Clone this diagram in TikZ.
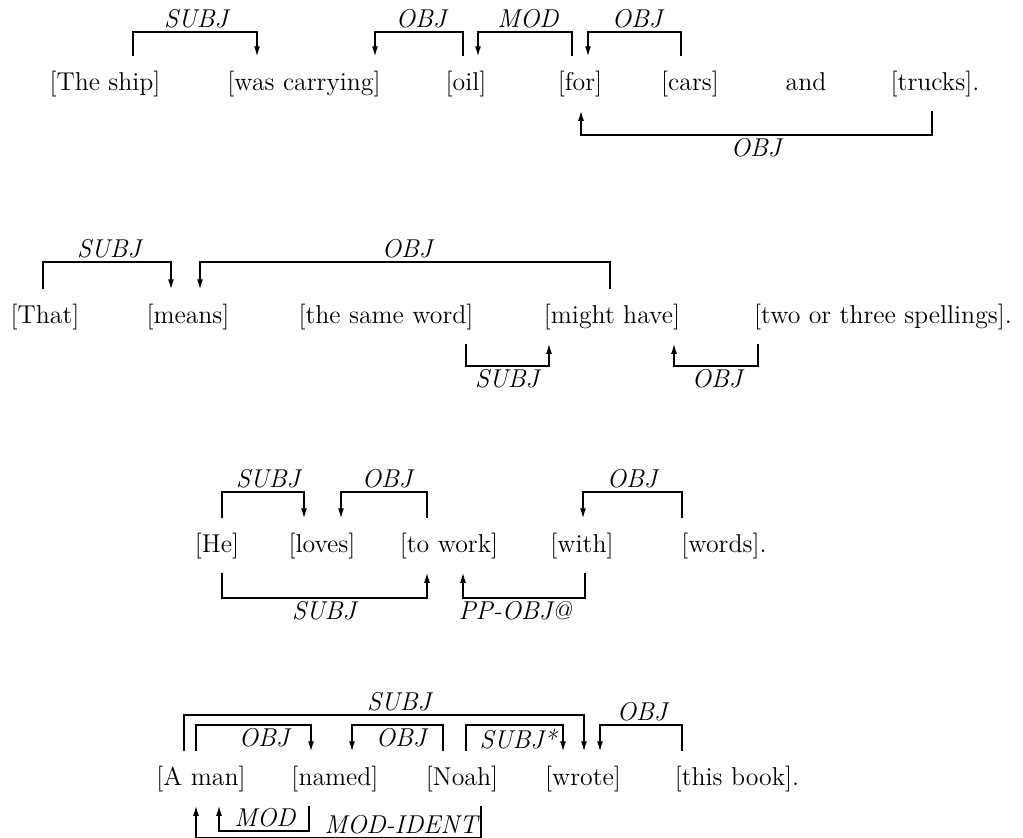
\documentclass[tikz,border=0pt]{standalone}
\usepackage{tikz}
\usetikzlibrary{arrows.meta}
\tikzset{>={Latex[length=5pt,width=3pt]}}
\tikzset{
  word/.style={anchor=base, inner sep=7pt, font=\fontsize{12.9}{15}\selectfont},
  rel/.style={font=\fontsize{12.9}{15}\selectfont\itshape, inner sep=1.5pt},
  dep/.style={line width=0.65pt, ->}
}

\begin{document}
\begin{tikzpicture}[x=0.5pt, y=-0.5pt]
    \useasboundingbox (0,0) rectangle (1023,837);

    %first sentence
    \node[word] (ship) at (105,90) {[The ship]};
    \node[word] (was) at (304,90) {[was carrying]};
    \node[word] (oil) at (466,90) {[oil]};
    \node[word] (for) at (580,90) {[for]};
    \node[word] (cars) at (690,90) {[cars]};
    \node[word] (and) at (806,90) {and};
    \node[word] (trucks) at (935,90) {[trucks].};

    \draw[dep] (ship.north -| 133,0) |- (196,32) node[rel, above] {SUBJ} -| (was.north -| 257,0);
    \draw[dep] (oil.north -| 463,0) |- (421,32) node[rel, above] {OBJ} -| (was.north -| 375,0);
    \draw[dep] (for.north -| 572,0) |- (528,32) node[rel, above] {MOD} -| (oil.north -| 478,0);
    \draw[dep] (cars.north -| 681,0) |- (637,32) node[rel, above] {OBJ} -| (for.north -| 588,0);
    \draw[dep] (trucks.south -| 932,0) |- (756,135) node[rel, below] {OBJ} -| (for.south -| 581,0);

    %second sentence
    \node[word] (that) at (45,323) {[That]};
    \node[word] (means) at (188,323) {[means]};
    \node[word] (same) at (386,323) {[the same word]};
    \node[word] (might) at (612,323) {[might have]};
    \node[word] (spell) at (883,323) {[two or three spellings].};

    \draw[dep] (that.north -| 43,0) |- (109,262) node[rel, above] {SUBJ} -| (means.north -| 171,0);
    \draw[dep] (might.north -| 610,0) |- (407,262) node[rel, above] {OBJ} -| (means.north -| 200,0);
    \draw[dep] (same.south -| 466,0) |- (507,366) node[rel, below] {SUBJ} -| (might.south -| 549,0);
    \draw[dep] (spell.south -| 758,0) |- (717,366) node[rel, below] {OBJ} -| (might.south -| 674,0);

    %third sentence
    \node[word] (he) at (217,552) {[He]};
    \node[word] (loves) at (322,552) {[loves]};
    \node[word] (towork) at (449,552) {[to work]};
    \node[word] (with) at (582,552) {[with]};
    \node[word] (words) at (724,552) {[words].};

    \draw[dep] (he.north -| 222,0) |- (268,492) node[rel, above] {SUBJ} -| (loves.north -| 304,0);
    \draw[dep] (towork.north -| 427,0) |- (387,492) node[rel, above] {OBJ} -| (loves.north -| 341,0);
    \draw[dep] (words.north -| 682,0) |- (632,492) node[rel, above] {OBJ} -| (with.north -| 583,0);
    \draw[dep] (he.south -| 222,0) |- (324,598) node[rel, below] {SUBJ} -| (towork.south -| 427,0);
    \draw[dep] (with.south -| 585,0) |- (515,598) node[rel, below] {PP-OBJ@} -| (towork.south -| 463,0);

    %fourth sentence
    \node[word] (man) at (201,785) {[A man]};
    \node[word] (named) at (335,785) {[named]};
    \node[word] (noah) at (462,785) {[Noah]};
    \node[word] (wrote) at (583,785) {[wrote]};
    \node[word] (book) at (737,785) {[this book].};

    \draw[dep] (man.north -| 184,0) |- (399,715) node[rel, above] {SUBJ} -| (wrote.north -| 584,0);
    \draw[dep] (man.north -| 196,0) |- (264,725) node[rel, below] {OBJ} -| (named.north -| 311,0);
    \draw[dep] (noah.north -| 443,0) |- (401,725) node[rel, below] {OBJ} -| (named.north -| 352,0);
    \draw[dep] (noah.north -| 466,0) |- (518,725) node[rel, below] {SUBJ*} -| (wrote.north -| 563,0);
    \draw[dep] (book.north -| 682,0) |- (642,725) node[rel, above] {OBJ} -| (wrote.north -| 600,0);
    \draw[dep] (named.south -| 309,0) |- (265,831) node[rel, above] {MOD} -| (man.south -| 219,0);
    \draw[dep] (noah.south -| 481,0) |- (401,838) node[rel, above] {MOD-IDENT} -| (man.south -| 196,0);

\end{tikzpicture}
\end{document}
